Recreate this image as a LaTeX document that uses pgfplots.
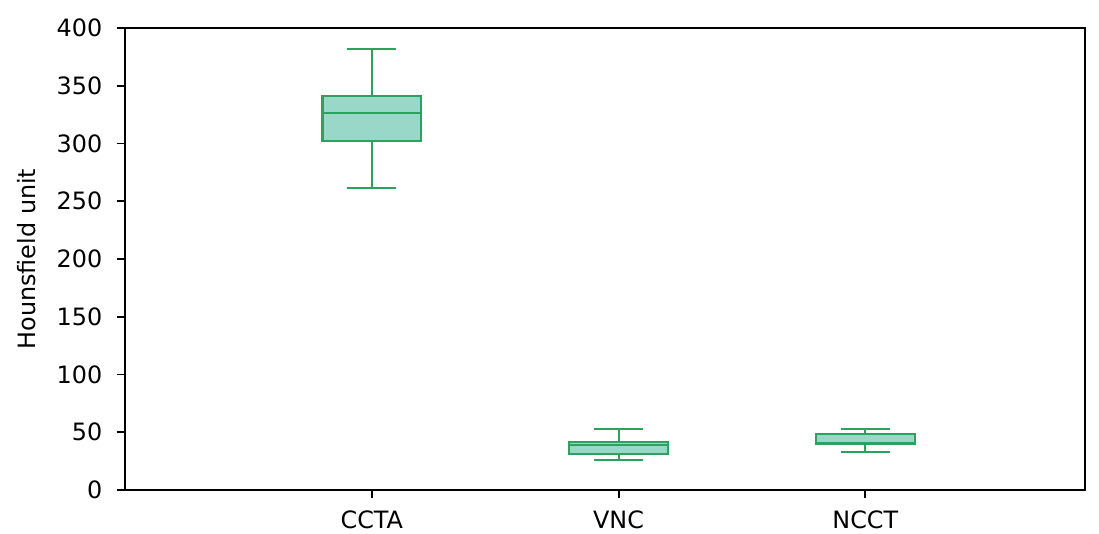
\documentclass[border=0pt]{standalone}
\usepackage{fontspec}
\setmainfont{DejaVu Sans}
\usepackage{pgfplots}
\pgfplotsset{compat=1.18}
\definecolor{boxface}{HTML}{99D8C9}
\definecolor{boxedge}{HTML}{2CA25F}
\pgfplotsset{bx/.style={draw=boxedge, line width=0.9pt, mark=none, solid}}
\begin{document}
\begin{tikzpicture}
\useasboundingbox (-52.38pt,-18.02pt) rectangle (408.11pt,205.32pt);
\begin{axis}[
  at={(0pt,0pt)}, anchor=south west,
  scale only axis, width=402.24pt, height=193.58pt,
  xmin=0, xmax=3.89, ymin=0, ymax=400,
  xtick={1,2,3}, xticklabels={CCTA,VNC,NCCT},
  ytick={0,50,...,400},
  tick align=outside, tick pos=left,
  major tick length=3.5pt,
  axis line style={line width=0.8pt},
  major tick style={line width=0.8pt, black},
  ylabel={Hounsfield unit},
  ylabel style={at={(axis description cs:-0.0836,0.5)}, anchor=south},
  tick label style={font=\fontsize{10}{12}\selectfont},
  xticklabel style={yshift=-1.5pt},
  yticklabel style={xshift=-2.5pt},
  label style={font=\fontsize{10}{12}\selectfont},
  /pgf/number format/assume math mode=true,
]
% CCTA
\addplot[bx, fill=boxface] coordinates {(0.8,301.9) (1.2,301.9) (1.2,341.4) (0.8,341.4)} -- cycle;
\addplot[bx] coordinates {(0.8,326.7) (1.2,326.7)};
\addplot[bx] coordinates {(1,341.4) (1,381.6)};
\addplot[bx] coordinates {(0.9,381.6) (1.1,381.6)};
\addplot[bx] coordinates {(1,301.9) (1,261.5)};
\addplot[bx] coordinates {(0.9,261.5) (1.1,261.5)};
% VNC
\addplot[bx, fill=boxface] coordinates {(1.8,31.2) (2.2,31.2) (2.2,41.3) (1.8,41.3)} -- cycle;
\addplot[bx] coordinates {(1.8,38.7) (2.2,38.7)};
\addplot[bx] coordinates {(2,41.3) (2,52.8)};
\addplot[bx] coordinates {(1.9,52.8) (2.1,52.8)};
\addplot[bx] coordinates {(2,31.2) (2,26.0)};
\addplot[bx] coordinates {(1.9,26.0) (2.1,26.0)};
% NCCT
\addplot[bx, fill=boxface] coordinates {(2.8,39.6) (3.2,39.6) (3.2,48.2) (2.8,48.2)} -- cycle;
\addplot[bx] coordinates {(2.8,40.6) (3.2,40.6)};
\addplot[bx] coordinates {(3,48.2) (3,53.1)};
\addplot[bx] coordinates {(2.9,53.1) (3.1,53.1)};
\addplot[bx] coordinates {(3,39.6) (3,32.6)};
\addplot[bx] coordinates {(2.9,32.6) (3.1,32.6)};
\end{axis}
\end{tikzpicture}
\end{document}
